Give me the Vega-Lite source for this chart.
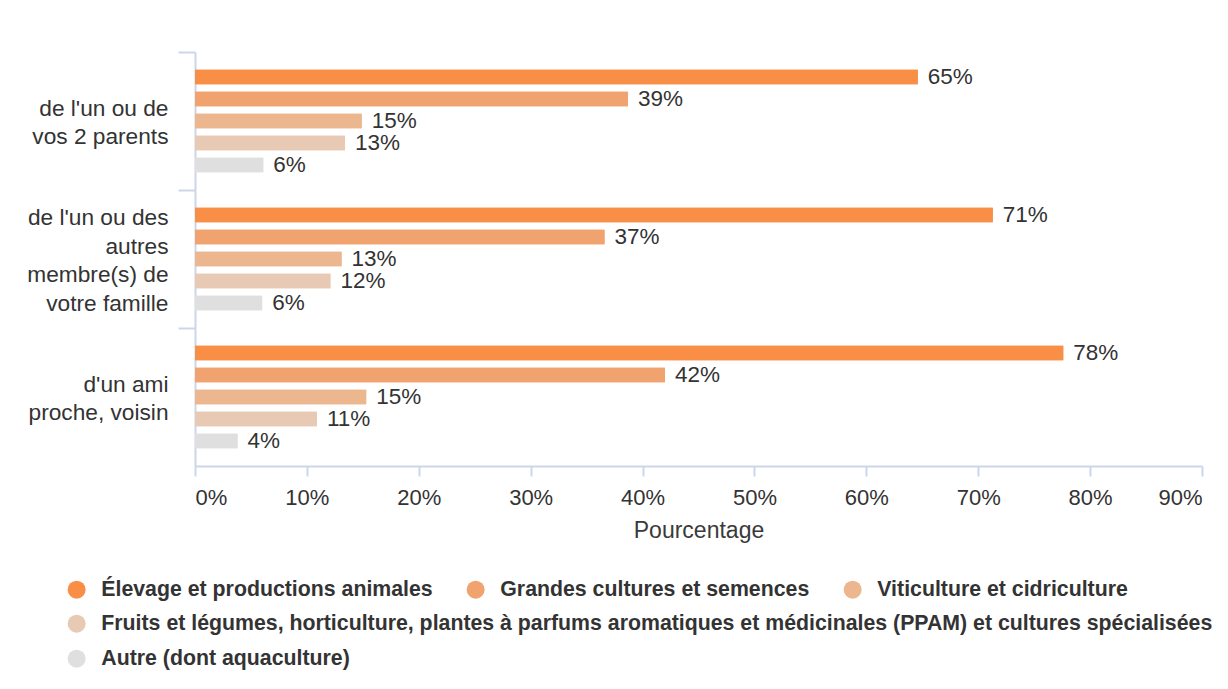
{
  "$schema": "https://vega.github.io/schema/vega-lite/v6.json",
  "autosize": {"type": "none"},
  "width": 1007,
  "height": 414,
  "padding": {"left": 195, "top": 52, "right": 26, "bottom": 223},
  "background": "#ffffff",
  "config": {
    "font": "Liberation Sans",
    "view": {"stroke": null},
    "legend": {
      "symbolType": "circle",
      "symbolSize": 324,
      "symbolStrokeWidth": 0,
      "labelFontSize": 21.3,
      "labelFontWeight": "bold",
      "labelColor": "#333333",
      "labelFont": "Liberation Sans",
      "labelLimit": 3000,
      "labelOffset": 14,
      "columnPadding": 32,
      "rowPadding": 13,
      "padding": 0,
      "title": null,
      "orient": "none"
    }
  },
  "data": {
    "values": [
      {"group": "de l'un ou de vos 2 parents", "category": "Élevage et productions animales", "value": 0.646},
      {"group": "de l'un ou de vos 2 parents", "category": "Grandes cultures et semences", "value": 0.387},
      {"group": "de l'un ou de vos 2 parents", "category": "Viticulture et cidriculture", "value": 0.149},
      {"group": "de l'un ou de vos 2 parents", "category": "Fruits et légumes, horticulture, plantes à parfums aromatiques et médicinales (PPAM) et cultures spécialisées", "value": 0.134},
      {"group": "de l'un ou de vos 2 parents", "category": "Autre (dont aquaculture)", "value": 0.061},
      {"group": "de l'un ou des autres membre(s) de votre famille", "category": "Élevage et productions animales", "value": 0.713},
      {"group": "de l'un ou des autres membre(s) de votre famille", "category": "Grandes cultures et semences", "value": 0.366},
      {"group": "de l'un ou des autres membre(s) de votre famille", "category": "Viticulture et cidriculture", "value": 0.131},
      {"group": "de l'un ou des autres membre(s) de votre famille", "category": "Fruits et légumes, horticulture, plantes à parfums aromatiques et médicinales (PPAM) et cultures spécialisées", "value": 0.121},
      {"group": "de l'un ou des autres membre(s) de votre famille", "category": "Autre (dont aquaculture)", "value": 0.06},
      {"group": "d'un ami proche, voisin", "category": "Élevage et productions animales", "value": 0.776},
      {"group": "d'un ami proche, voisin", "category": "Grandes cultures et semences", "value": 0.42},
      {"group": "d'un ami proche, voisin", "category": "Viticulture et cidriculture", "value": 0.153},
      {"group": "d'un ami proche, voisin", "category": "Fruits et légumes, horticulture, plantes à parfums aromatiques et médicinales (PPAM) et cultures spécialisées", "value": 0.109},
      {"group": "d'un ami proche, voisin", "category": "Autre (dont aquaculture)", "value": 0.038}
    ]
  },
  "encoding": {
    "y": {
      "field": "group",
      "type": "nominal",
      "sort": ["de l'un ou de vos 2 parents", "de l'un ou des autres membre(s) de votre famille", "d'un ami proche, voisin"],
      "scale": {"paddingInner": 0, "paddingOuter": 0},
      "axis": {
        "title": null,
        "bandPosition": 0,
        "tickSize": 17,
        "tickWidth": 2,
        "tickColor": "#ccd6eb",
        "domainColor": "#ccd6eb",
        "domainWidth": 2,
        "labelFontSize": 22.7,
        "labelColor": "#333333",
        "labelPadding": 10,
        "labelLineHeight": 28.5,
        "labelOffset": -41,
        "labelAlign": "right",
        "labelBaseline": "middle",
        "labelLimit": 400,
        "labelExpr": "datum.value === \"de l'un ou de vos 2 parents\" ? [\"\", \"de l'un ou de\", \"vos 2 parents\"] : datum.value === \"de l'un ou des autres membre(s) de votre famille\" ? [\"de l'un ou des\", \"autres\", \"membre(s) de\", \"votre famille\"] : [\"\", \"d'un ami\", \"proche, voisin\"]"
      }
    },
    "yOffset": {
      "field": "category",
      "type": "nominal",
      "sort": ["Élevage et productions animales", "Grandes cultures et semences", "Viticulture et cidriculture", "Fruits et légumes, horticulture, plantes à parfums aromatiques et médicinales (PPAM) et cultures spécialisées", "Autre (dont aquaculture)"],
      "scale": {"paddingInner": 0.34, "paddingOuter": 0.8}
    },
    "x": {
      "field": "value",
      "type": "quantitative",
      "scale": {"domain": [0, 0.9], "nice": false},
      "axis": {
        "title": "Pourcentage",
        "titleFontSize": 23,
        "titleFontWeight": "normal",
        "titleColor": "#3a3a3a",
        "titlePadding": 11,
        "values": [0, 0.1, 0.2, 0.3, 0.4, 0.5, 0.6, 0.7, 0.8, 0.9],
        "format": ".0%",
        "grid": false,
        "tickSize": 10,
        "tickWidth": 2,
        "tickColor": "#ccd6eb",
        "domainColor": "#ccd6eb",
        "domainWidth": 2,
        "labelFontSize": 22,
        "labelColor": "#333333",
        "labelPadding": 11
      }
    }
  },
  "layer": [
    {
      "mark": {"type": "bar"},
      "encoding": {
        "color": {
          "field": "category",
          "type": "nominal",
          "scale": {
            "domain": ["Élevage et productions animales", "Grandes cultures et semences", "Viticulture et cidriculture", "Fruits et légumes, horticulture, plantes à parfums aromatiques et médicinales (PPAM) et cultures spécialisées", "Autre (dont aquaculture)"],
            "range": ["#f98f46", "#f0a36e", "#ecb78e", "#e8cab4", "#dfdfdf"]
          },
          "legend": {
            "values": ["Élevage et productions animales", "Grandes cultures et semences", "Viticulture et cidriculture"],
            "direction": "horizontal",
            "legendX": -129,
            "legendY": 527
          }
        }
      }
    },
    {
      "mark": {"type": "bar"},
      "encoding": {
        "color": {
          "field": "category",
          "type": "nominal",
          "scale": {
            "domain": ["Élevage et productions animales", "Grandes cultures et semences", "Viticulture et cidriculture", "Fruits et légumes, horticulture, plantes à parfums aromatiques et médicinales (PPAM) et cultures spécialisées", "Autre (dont aquaculture)"],
            "range": ["#f98f46", "#f0a36e", "#ecb78e", "#e8cab4", "#dfdfdf"]
          },
          "legend": {
            "values": ["Fruits et légumes, horticulture, plantes à parfums aromatiques et médicinales (PPAM) et cultures spécialisées", "Autre (dont aquaculture)"],
            "direction": "vertical",
            "legendX": -129,
            "legendY": 561
          }
        }
      }
    },
    {
      "mark": {"type": "text", "align": "left", "baseline": "middle", "dx": 10, "fontSize": 22.5, "color": "#333333"},
      "encoding": {
        "text": {"field": "value", "type": "quantitative", "format": ".0%"}
      }
    }
  ],
  "resolve": {"scale": {"color": "independent"}, "legend": {"color": "independent"}}
}
